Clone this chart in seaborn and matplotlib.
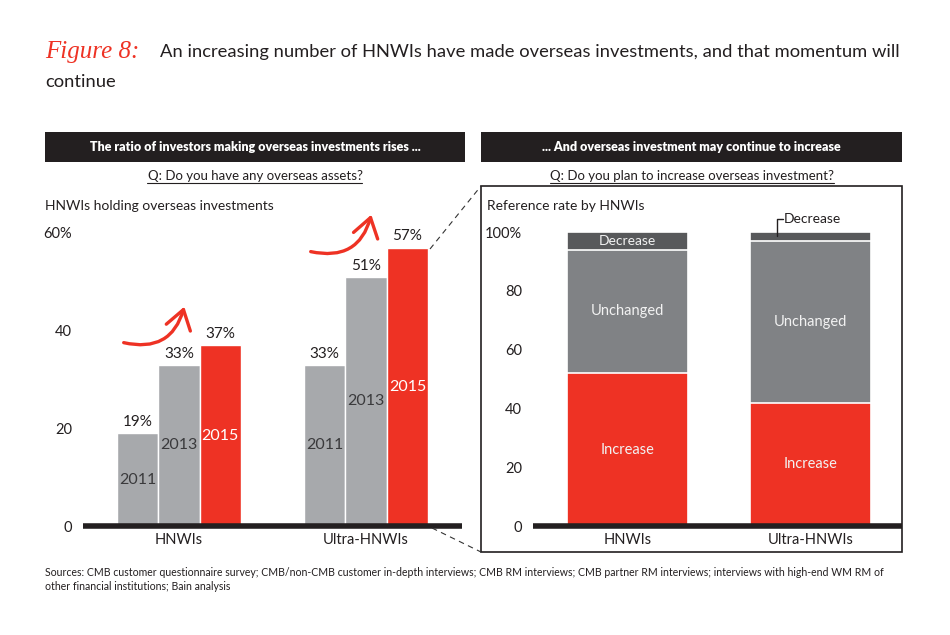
import numpy as np
import pandas as pd
import matplotlib
matplotlib.use("Agg")
import matplotlib.pyplot as plt
import seaborn as sns
from matplotlib.patches import Rectangle, FancyArrowPatch
from matplotlib.lines import Line2D

# ---------------- data ----------------
groups = ["HNWIs", "Ultra-HNWIs"]
years = ["2011", "2013", "2015"]
hnwi_share = [19, 33, 37]
uhnwi_share = [33, 51, 57]
left_ticks = [0, 20, 40, 60]
left_ticklabels = ["0", "20", "40", "60%"]

plan_levels = ["Increase", "Unchanged", "Decrease"]
plan_increase = [52, 42]
plan_unchanged = [42, 55]
plan_decrease = [6, 3]
right_ticks = [0, 20, 40, 60, 80, 100]
right_ticklabels = ["0", "20", "40", "60", "80", "100%"]

RED = "#EE3224"
LGRAY = "#A7A9AC"
MGRAY = "#808285"
DGRAY = "#58595B"
BLACK = "#231F20"

sns.set_theme(style="white")
FONT = "Lato"
plt.rcParams["font.family"] = [FONT, "DejaVu Sans"]
plt.rcParams["text.color"] = BLACK

W, H = 950, 635
fig = plt.figure(figsize=(9.5, 6.35), dpi=100)


def fx(x):
    return x / W


def fy(y):
    return 1 - y / H


def ax_rect(x0, y0, x1, y1):
    return [fx(x0), fy(y1), (x1 - x0) / W, (y1 - y0) / H]


# ---------------- left chart ----------------
axL = fig.add_axes(ax_rect(83, 233, 462, 526))
dfL = pd.DataFrame({
    "group": np.repeat(groups, len(years)),
    "year": years * len(groups),
    "value": hnwi_share + uhnwi_share,
})
sns.barplot(data=dfL, x="group", y="value", hue="year", hue_order=years,
            order=groups, palette={"2011": LGRAY, "2013": LGRAY, "2015": RED},
            width=0.663, edgecolor="white", linewidth=1, legend=False,
            saturation=1, ax=axL)
axL.set_xlim(-0.513, 1.513)
axL.set_ylim(0, 60)
axL.set_yticks(left_ticks)
axL.set_yticklabels(left_ticklabels)
for i, cont in enumerate(axL.containers):
    vals = [cont.datavalues[k] for k in range(len(cont))]
    axL.bar_label(cont, labels=[f"{int(v)}%" for v in vals], padding=3,
                  fontsize=11, color=BLACK)
    axL.bar_label(cont, labels=[years[i]] * len(cont), label_type="center",
                  fontsize=11.5, color="white" if years[i] == "2015" else "#3a3a3c")

# ---------------- right chart ----------------
axR = fig.add_axes(ax_rect(533, 232, 902, 526))
inc = np.array(plan_increase)
unc = np.array(plan_unchanged)
dec = np.array(plan_decrease)
cum_unc = inc + unc
cum_dec = inc + unc + dec
dfR = pd.DataFrame({"group": groups, "Increase": inc, "cum_unc": cum_unc,
                    "cum_dec": cum_dec})
for col, c in [("cum_dec", DGRAY), ("cum_unc", MGRAY), ("Increase", RED)]:
    sns.barplot(data=dfR, x="group", y=col, order=groups, color=c,
                width=0.661, edgecolor="white", linewidth=1.2, saturation=1,
                ax=axR)
axR.set_xlim(-0.516, 1.5)
axR.set_ylim(0, 100)
axR.set_yticks(right_ticks)
axR.set_yticklabels(right_ticklabels)
seg_txt = "#F2F2F2"
for i in range(len(groups)):
    axR.text(i, inc[i] / 2, "Increase", ha="center", va="center",
             color=seg_txt, fontsize=10.5)
    axR.text(i, inc[i] + unc[i] / 2, "Unchanged", ha="center", va="center",
             color=seg_txt, fontsize=10.5)
axR.text(0, cum_unc[0] + dec[0] / 2, "Decrease", ha="center", va="center",
         color=seg_txt, fontsize=10)
# callout for small decrease segment
xk = 1 - 0.661 / 2 + 0.15
axR.plot([xk, xk, xk + 0.03], [cum_unc[1] + dec[1] / 2, 104.5, 104.5],
         color=BLACK, lw=1, clip_on=False)
axR.text(xk + 0.035, 104.5, "Decrease", ha="left", va="center", fontsize=10,
         color=BLACK)

for ax in (axL, axR):
    sns.despine(ax=ax, left=True, bottom=True, top=True, right=True)
    ax.axhline(0, color=BLACK, lw=4, clip_on=False, zorder=5,
               solid_capstyle="butt")
    ax.set_xlabel("")
    ax.set_ylabel("")
    ax.tick_params(axis="both", length=0, labelsize=10.5, colors=BLACK)
    ax.tick_params(axis="y", pad=8)
    ax.tick_params(axis="x", pad=5)
    ax.grid(False)
    ax.patch.set_alpha(0)

# ---------------- figure text & decorations ----------------
fig.text(fx(45), fy(52), "Figure 8:", fontsize=18, color=RED,
         family="Liberation Serif", style="italic", va="center", ha="left")
fig.text(fx(160), fy(52),
         "An increasing number of HNWIs have made overseas investments, and that momentum will",
         fontsize=13.2, va="center", ha="left")
fig.text(fx(45), fy(82), "continue", fontsize=13.2, va="center", ha="left")

for (x0, x1, label) in [(45, 465, "The ratio of investors making overseas investments rises ..."),
                        (481, 902, "... And overseas investment may continue to increase")]:
    fig.add_artist(Rectangle((fx(x0), fy(162)), (x1 - x0) / W, 30 / H,
                             transform=fig.transFigure, color=BLACK, lw=0))
    fig.text(fx((x0 + x1) / 2), fy(147), label, color="white", fontsize=9,
             fontweight="heavy", ha="center", va="center")

qtexts = []
for (xc, label) in [(255, "Q: Do you have any overseas assets?"),
                    (692, "Q: Do you plan to increase overseas investment?")]:
    qtexts.append(fig.text(fx(xc), fy(176), label, fontsize=9.5, ha="center",
                           va="center"))

fig.text(fx(45), fy(206), "HNWIs holding overseas investments", fontsize=10,
         ha="left", va="center")
fig.text(fx(487), fy(206), "Reference rate by HNWIs", fontsize=10,
         ha="left", va="center")

# frame around right chart
fig.add_artist(Rectangle((fx(481), fy(552)), (902 - 481) / W, (552 - 186) / H,
                         transform=fig.transFigure, fill=False, ec=BLACK, lw=1.2))
# dashed zoom lines
fig.add_artist(Line2D([fx(430), fx(481)], [fy(249), fy(186)],
                      transform=fig.transFigure, color="#333333", lw=0.8,
                      ls=(0, (5, 4))))
fig.add_artist(Line2D([fx(432), fx(481)], [fy(528), fy(552)],
                      transform=fig.transFigure, color="#333333", lw=0.8,
                      ls=(0, (5, 4))))

# red hand-drawn style arrows
for (p0, p1) in [((121, 342), (185, 304)), ((308, 251), (372, 212))]:
    fig.add_artist(FancyArrowPatch((fx(p0[0]), fy(p0[1])), (fx(p1[0]), fy(p1[1])),
                                   transform=fig.transFigure,
                                   connectionstyle="arc3,rad=0.5",
                                   arrowstyle="->,head_length=9,head_width=6",
                                   color=RED, lw=2.4, mutation_scale=1.5))

fig.text(fx(45), fy(572),
         "Sources: CMB customer questionnaire survey; CMB/non-CMB customer in-depth interviews; CMB RM interviews; CMB partner RM interviews; interviews with high-end WM RM of",
         fontsize=7.6, ha="left", va="center")
fig.text(fx(45), fy(587), "other financial institutions; Bain analysis",
         fontsize=7.6, ha="left", va="center")

# underline the question texts
fig.canvas.draw()
r = fig.canvas.get_renderer()
for t in qtexts:
    bb = t.get_window_extent(r).transformed(fig.transFigure.inverted())
    fig.add_artist(Line2D([bb.x0, bb.x1], [bb.y0 - 0.002, bb.y0 - 0.002],
                          transform=fig.transFigure, color=BLACK, lw=0.8))

fig.savefig("out.png", dpi=100, facecolor="white")
